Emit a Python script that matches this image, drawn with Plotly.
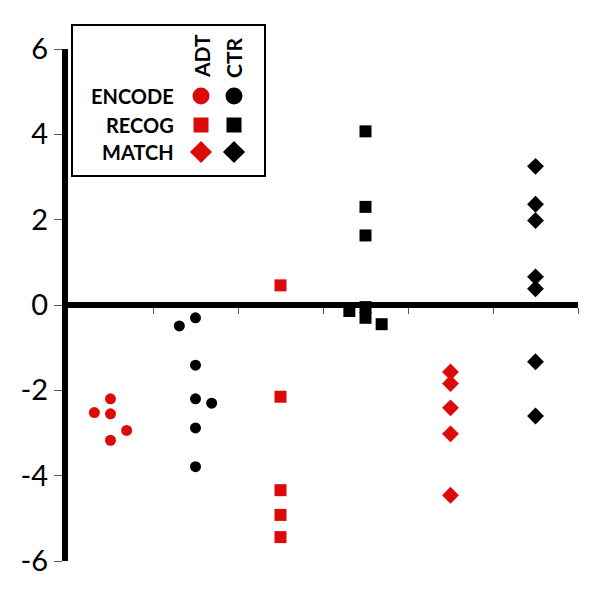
import plotly.graph_objects as go

# data: values per group, jitter = horizontal nudge (-1 left, 0 centre, 1 right)
groups = ['ENCODE ADT', 'ENCODE CTR', 'RECOG ADT', 'RECOG CTR', 'MATCH ADT', 'MATCH CTR']
encode_adt = [-2.20, -2.52, -2.55, -2.94, -3.17]
encode_adt_jit = [0, -1, 0, 1, 0]
encode_ctr = [-0.30, -0.49, -1.41, -2.20, -2.30, -2.88, -3.79]
encode_ctr_jit = [0, -1, 0, 0, 1, 0, 0]
recog_adt = [0.46, -2.15, -4.34, -4.92, -5.44]
recog_adt_jit = [0, 0, 0, 0, 0]
recog_ctr = [4.07, 2.30, 1.63, -0.05, -0.14, -0.30, -0.45]
recog_ctr_jit = [0, 0, 0, 0, -1, 0, 1]
match_adt = [-1.57, -1.84, -2.41, -3.02, -4.46]
match_adt_jit = [0, 0, 0, 0, 0]
match_ctr = [3.25, 2.36, 1.98, 0.66, 0.38, -1.33, -2.60]
match_ctr_jit = [0, 0, 0, 0, 0, 0, 0]

ytick_vals = [-6, -4, -2, 0, 2, 4, 6]
ytick_text = ['-6', '-4', '-2', '0', '2', '4', '6']

RED = '#DD0A0A'
BLACK = '#000000'
FONT = 'Lato'

series = [
    (encode_adt, encode_adt_jit, 'circle', RED, 11),
    (encode_ctr, encode_ctr_jit, 'circle', BLACK, 11),
    (recog_adt, recog_adt_jit, 'square', RED, 12),
    (recog_ctr, recog_ctr_jit, 'square', BLACK, 12),
    (match_adt, match_adt_jit, 'diamond', RED, 13),
    (match_ctr, match_ctr_jit, 'diamond', BLACK, 13),
]

fig = go.Figure()
for i, (vals, jit, sym, col, sz) in enumerate(series):
    fig.add_trace(go.Scatter(
        x=[i + 0.5 + j * 0.19 for j in jit], y=vals, mode='markers',
        name=groups[i], showlegend=False,
        marker=dict(symbol=sym, color=col, size=sz, line=dict(width=0))))

# plot area in screen pixels (page body has an 8px margin)
OFF = 8
L, R, T, B = 68, 578, 49, 561
W, H = 600, 611


def px(x):
    return (x - L) / (R - L)


def py(y):
    return (B - y) / (B - T)


# custom legend (markers on an overlay axis in pixel units)
leg_x = [201, 234]
leg_rows = [('ENCODE', 'circle', 17, 96), ('RECOG', 'square', 15, 125), ('MATCH', 'diamond', 17, 152)]
for label, sym, sz, y in leg_rows:
    fig.add_trace(go.Scatter(
        x=leg_x, y=[y, y], mode='markers', xaxis='x2', yaxis='y2', showlegend=False,
        marker=dict(symbol=sym, size=sz, color=[RED, BLACK], line=dict(width=0)),
        hoverinfo='skip'))
    fig.add_annotation(x=px(176), y=py(y), xref='paper', yref='paper', text='<b>' + label + '</b>',
                       showarrow=False, xanchor='right', yanchor='middle',
                       font=dict(family=FONT, size=20, color='black'))

for name, x in [('ADT', 201), ('CTR', 233)]:
    fig.add_annotation(x=px(x), y=py(80), xref='paper', yref='paper', text='<b>' + name + '</b>',
                       showarrow=False, textangle=-90, xanchor='center', yanchor='bottom',
                       font=dict(family=FONT, size=21, color='black'))

fig.add_shape(type='rect', xref='paper', yref='paper',
              x0=px(72), x1=px(265), y0=py(176), y1=py(25),
              line=dict(color='black', width=2), fillcolor='rgba(0,0,0,0)')

fig.update_layout(
    width=W, height=H,
    margin=dict(l=L - OFF, r=W - R + OFF, t=T - OFF, b=H - B + OFF),
    plot_bgcolor='white', paper_bgcolor='white',
    font=dict(family=FONT, color='black'),
    xaxis=dict(range=[0, 6], anchor='free', position=0.5,
               showline=True, linewidth=6, linecolor='black',
               ticks='outside', ticklen=6, tickwidth=1, tickcolor='#555555',
               tickvals=[1, 2, 3, 4, 5, 6], showticklabels=False,
               showgrid=False, zeroline=False),
    yaxis=dict(range=[-6, 6], showline=True, linewidth=6, linecolor='black',
               ticks='outside', ticklen=8, tickwidth=1, tickcolor='#555555',
               tickvals=ytick_vals, ticktext=ytick_text,
               tickfont=dict(family=FONT, size=29, color='black'),
               showgrid=False, zeroline=False),
    xaxis2=dict(range=[L, R], overlaying='x', visible=False),
    yaxis2=dict(range=[B, T], overlaying='y', visible=False),
)

fig.write_html('out.html')
